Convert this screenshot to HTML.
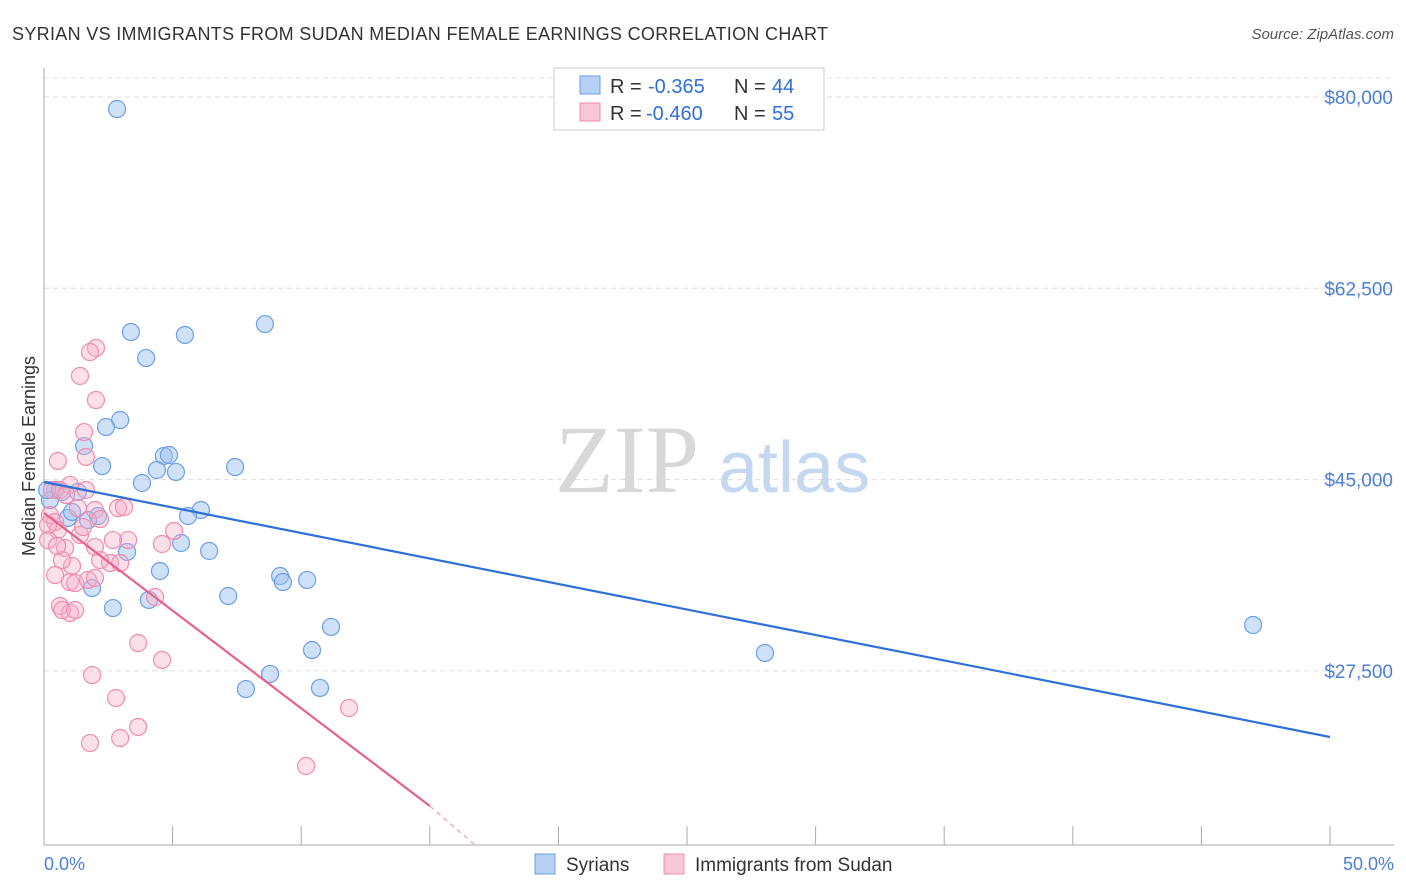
<!DOCTYPE html>
<html><head><meta charset="utf-8"><style>
body{margin:0;background:#fff;font-family:"Liberation Sans",sans-serif}
svg{display:block}
</style></head><body>
<svg width="1406" height="892" xmlns="http://www.w3.org/2000/svg">
<text x="12" y="40" font-size="18" fill="#333" textLength="816">SYRIAN VS IMMIGRANTS FROM SUDAN MEDIAN FEMALE EARNINGS CORRELATION CHART</text>
<text x="1394" y="39" font-size="15" fill="#555" font-style="italic" text-anchor="end">Source: ZipAtlas.com</text>
<g id="grid"></g>
<text x="555" y="492" font-size="96" fill="#d8d8d8" font-family="Liberation Serif,serif">ZIP</text>
<text x="718" y="492" font-size="72" fill="#c5d8f0">atlas</text>
<line x1="44" y1="68" x2="44" y2="845" stroke="#aaa"/>
<line x1="44" y1="845" x2="1394" y2="845" stroke="#aaa"/>
<g id="ticks"></g>
<text x="35" y="456" font-size="18" fill="#333" text-anchor="middle" transform="rotate(-90 35 456)">Median Female Earnings</text>
<text x="44" y="870" font-size="18" fill="#4a7fd4">0.0%</text>
<text x="1394" y="870" font-size="18" fill="#4a7fd4" text-anchor="end">50.0%</text>
<g id="pts"></g>
<g id="lines"></g>
<g>
<rect x="554" y="68" width="270" height="62" fill="#fff" stroke="#ccc"/>
<rect x="580" y="76" width="20" height="18" fill="#b8d0f4" stroke="#6d9ee8"/>
<text x="610" y="93" font-size="20" fill="#333">R =</text>
<text x="648" y="93" font-size="20" fill="#2f6fd8">-0.365</text>
<text x="734" y="93" font-size="20" fill="#333">N =</text>
<text x="772" y="93" font-size="20" fill="#2f6fd8">44</text>
<rect x="580" y="103" width="20" height="18" fill="#f8c8d8" stroke="#f08cb0"/>
<text x="610" y="120" font-size="20" fill="#333">R =</text>
<text x="646" y="120" font-size="20" fill="#2f6fd8">-0.460</text>
<text x="734" y="120" font-size="20" fill="#333">N =</text>
<text x="772" y="120" font-size="20" fill="#2f6fd8">55</text>
</g>
<g>
<rect x="535" y="854" width="20" height="20" fill="#b8d0f4" stroke="#6d9ee8"/>
<text x="566" y="871" font-size="19" fill="#333">Syrians</text>
<rect x="664" y="854" width="20" height="20" fill="#f8c8d8" stroke="#f08cb0"/>
<text x="695" y="871" font-size="19" fill="#333">Immigrants from Sudan</text>
</g>
</svg>
<script>
const yTicks=[80000,62500,45000,27500];
const yTickLabels=["$80,000","$62,500","$45,000","$27,500"];
const xTicks=[0,5,10,15,20,25,30,35,40,45,50];
const syrX=[2.84,3.38,5.48,8.59,3.97,2.96,2.41,1.56,4.66,4.86,2.26,4.39,5.13,7.43,3.81,0.70,1.32,0.43,6.10,5.60,0.93,2.10,1.71,1.09,0.23,5.33,6.42,3.23,4.51,9.18,9.29,10.23,1.87,2.68,4.08,7.16,11.16,10.42,8.79,7.85,10.73,28.03,47.01,0.12];
const syrY=[78900,58500,58230,59230,56120,50450,49810,48070,47160,47250,46240,45880,45700,46150,44690,43870,43870,44050,42220,41670,41490,41670,41300,42040,43130,39200,38470,38380,36640,36180,35630,35820,35080,33250,33990,34350,31520,29410,27220,25840,25940,29140,31700,44050];
const sudX=[2.02,1.79,1.40,2.02,1.56,1.63,0.54,0.31,0.62,1.01,1.63,1.32,1.98,2.88,3.11,0.23,0.43,0.54,1.40,0.16,0.82,1.98,4.59,5.06,3.27,2.68,2.57,2.18,1.09,0.70,1.01,1.21,1.71,1.98,2.96,4.32,0.62,1.01,0.70,1.21,3.66,4.59,1.87,2.80,3.66,2.96,1.79,10.19,11.86,2.18,0.51,0.16,0.86,1.52,0.43];
const sudY=[57040,56670,54480,52280,49350,47070,46700,44050,44050,44510,44050,42400,42220,42400,42490,41760,41120,40390,39930,39470,38740,38830,39110,40300,39470,39470,37370,37640,37100,37640,35630,35540,35820,36000,37370,34260,33440,32800,33070,33070,30050,28500,27120,25020,22370,21360,20900,18800,24110,41390,38930,40850,43590,40660,36270];
const trendSyr=[0,44780,50,21453];
const trendSud=[0,41944,15,15141,16.76,11570];
const NS="http://www.w3.org/2000/svg";
const X=p=>44+p*25.72, Y=v=>97+(80000-v)/91.48;
function mk(t,a,par){const e=document.createElementNS(NS,t);for(const k in a)e.setAttribute(k,a[k]);document.getElementById(par).appendChild(e);return e;}
yTicks.forEach((v,i)=>{
 const l=mk('line',{x1:44,x2:1394,y1:Y(v),y2:Y(v),stroke:'#ddd','stroke-dasharray':'5,4'},'grid');
 
 
 const t=mk('text',{x:1393,y:Y(v)+7,'font-size':19,fill:'#4a7fd4','text-anchor':'end'},'grid');
 t.textContent=yTickLabels[i];
 
 
});
const tl=mk('line',{x1:44,x2:1394,y1:78,y2:78,stroke:'#e4e4e4','stroke-dasharray':'5,4'},'grid');


xTicks.forEach(p=>{
 const l=mk('line',{x1:X(p),x2:X(p),y1:826,y2:845,stroke:'#aaa'},'ticks');
 
 
});
syrX.forEach((p,i)=>{
 const c=mk('circle',{cx:X(p),cy:Y(syrY[i]),r:8.5,fill:'rgba(160,195,240,0.5)',stroke:'#6d9ee8','stroke-width':1.2},'pts');
 
 
});
sudX.forEach((p,i)=>{
 const c=mk('circle',{cx:X(p),cy:Y(sudY[i]),r:8.5,fill:'rgba(245,175,200,0.4)',stroke:'#f08cb0','stroke-width':1.2},'pts');
 
 
});
const l1=mk('line',{x1:X(trendSyr[0]),y1:Y(trendSyr[1]),x2:X(trendSyr[2]),y2:Y(trendSyr[3]),stroke:'#2f6fd8','stroke-width':2.2},'lines');


const l2=mk('line',{x1:X(trendSud[0]),y1:Y(trendSud[1]),x2:X(trendSud[2]),y2:Y(trendSud[3]),stroke:'#e8608c','stroke-width':2.2},'lines');


const l3=mk('line',{x1:X(trendSud[2]),y1:Y(trendSud[3]),x2:X(trendSud[4]),y2:Y(trendSud[5]),stroke:'#f0a0bc','stroke-width':1.2,'stroke-dasharray':'5,4'},'lines');


</script>
</body></html>
